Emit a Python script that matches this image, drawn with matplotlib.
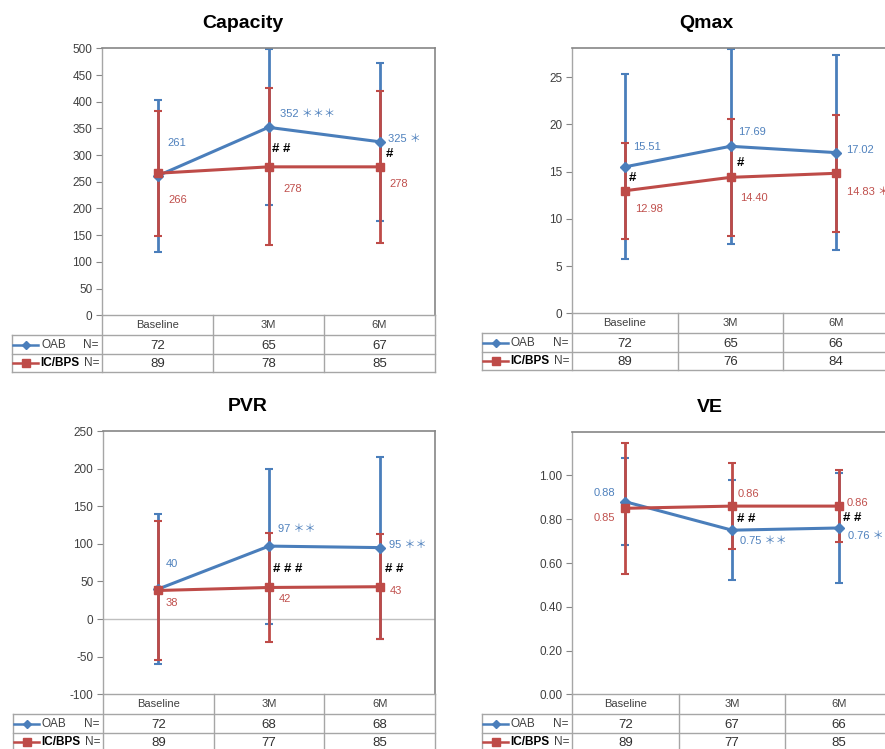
import matplotlib
matplotlib.use("Agg")
import matplotlib.pyplot as plt
from matplotlib.lines import Line2D
from matplotlib.ticker import FormatStrFormatter

plt.rcParams['font.family'] = ['Liberation Sans', 'Noto Sans CJK JP', 'DejaVu Sans']

W, H = 885, 749
fig = plt.figure(figsize=(W / 100, H / 100), dpi=100)

BLUE = '#4A7EBB'
RED = '#BE4B48'
BLUE_T = '#4F81BD'
RED_T = '#C0504D'
GRID = '#A6A6A6'
SPINE = '#868686'

categories = ['Baseline', '3M', '6M']

# ---- data ----
cap_oab = [261, 352, 325]
cap_oab_sd = [143, 146, 148]
cap_ic = [266, 278, 278]
cap_ic_sd = [117, 147, 142]
cap_n_oab = [72, 65, 67]
cap_n_ic = [89, 78, 85]
cap_oab_stars = [0, 3, 1]
cap_ic_stars = [0, 0, 0]
cap_hash = [0, 2, 1]

qmax_oab = [15.51, 17.69, 17.02]
qmax_oab_sd = [9.8, 10.3, 10.3]
qmax_ic = [12.98, 14.40, 14.83]
qmax_ic_sd = [5.1, 6.2, 6.2]
qmax_n_oab = [72, 65, 66]
qmax_n_ic = [89, 76, 84]
qmax_oab_stars = [0, 0, 0]
qmax_ic_stars = [0, 0, 1]
qmax_hash = [1, 1, 0]

pvr_oab = [40, 97, 95]
pvr_oab_sd = [100, 103, 121]
pvr_ic = [38, 42, 43]
pvr_ic_sd = [93, 72, 70]
pvr_n_oab = [72, 68, 68]
pvr_n_ic = [89, 77, 85]
pvr_oab_stars = [0, 2, 2]
pvr_ic_stars = [0, 0, 0]
pvr_hash = [0, 3, 2]

ve_oab = [0.88, 0.75, 0.76]
ve_oab_sd = [0.20, 0.227, 0.25]
ve_ic = [0.85, 0.86, 0.86]
ve_ic_sd = [0.30, 0.195, 0.165]
ve_n_oab = [72, 67, 66]
ve_n_ic = [89, 77, 85]
ve_oab_stars = [0, 2, 1]
ve_ic_stars = [0, 0, 0]
ve_hash = [0, 2, 2]


def fline(x0, y0, x1, y1, **kw):
    fig.add_artist(Line2D([x0 / W, x1 / W], [1 - y0 / H, 1 - y1 / H],
                          transform=fig.transFigure, **kw))


def ftext(x, y, s, **kw):
    fig.text(x / W, 1 - y / H, s, **kw)


def lab(v, fmt, stars):
    s = fmt.format(v)
    if stars:
        s += ' ' + '＊' * stars
    return s


def panel(rect, title, title_xy, ylim, yticks, yfmt, valfmt,
          oab, oab_sd, ic, ic_sd, n_oab, n_ic, oab_st, ic_st, hashes,
          oab_off, ic_off, hash_off, hash_anchor, zero_line=False):
    l, t, r, b = rect
    ax = fig.add_axes([l / W, 1 - b / H, (r - l) / W, (b - t) / H])
    x = list(range(len(categories)))
    ax.set_xlim(-0.5, 2.5)
    ax.set_ylim(*ylim)
    ax.set_yticks(yticks)
    ax.yaxis.set_major_formatter(FormatStrFormatter(yfmt))
    ax.set_xticks([])
    ax.tick_params(axis='y', length=4, color=SPINE, labelsize=8.5,
                   labelcolor='#404040', pad=3)
    for sp in ax.spines.values():
        sp.set_color(SPINE)
        sp.set_linewidth(1.2)
    ax.spines['bottom'].set_color(GRID)
    ax.spines['bottom'].set_linewidth(1)
    ax.spines['left'].set_color(GRID)
    ax.spines['left'].set_linewidth(1)
    if zero_line:
        ax.axhline(0, color='#BFBFBF', lw=1, zorder=1)

    ax.errorbar(x, oab, yerr=oab_sd, fmt='none', ecolor=BLUE, elinewidth=2,
                capsize=3, capthick=1.5, zorder=2)
    ax.errorbar(x, ic, yerr=ic_sd, fmt='none', ecolor=RED, elinewidth=2,
                capsize=3, capthick=1.5, zorder=3)
    ax.plot(x, oab, color=BLUE, lw=2.2, marker='D', ms=5, zorder=4)
    ax.plot(x, ic, color=RED, lw=2.2, marker='s', ms=6, zorder=5)

    for i in x:
        dx, dy, ha = oab_off[i]
        ax.annotate(lab(oab[i], valfmt, oab_st[i]), (i, oab[i]), xytext=(dx, dy),
                    textcoords='offset pixels', ha=ha, va='center',
                    fontsize=8, color=BLUE_T, zorder=6, annotation_clip=False)
        dx, dy, ha = ic_off[i]
        ax.annotate(lab(ic[i], valfmt, ic_st[i]), (i, ic[i]), xytext=(dx, dy),
                    textcoords='offset pixels', ha=ha, va='center',
                    fontsize=8, color=RED_T, zorder=6, annotation_clip=False)
        if hashes[i]:
            anc = oab if hash_anchor[i] == 'o' else ic
            dx, dy = hash_off[i]
            ax.annotate(' '.join(['#'] * hashes[i]), (i, anc[i]), xytext=(dx, dy),
                        textcoords='offset pixels', ha='left', va='center',
                        fontsize=9.5, fontweight='bold', color='black', zorder=6,
                        annotation_clip=False)

    # title
    ftext(title_xy[0], title_xy[1], title, ha='center', va='center',
          fontsize=14, fontweight='bold', color='black')

    # data table
    cols = [l + (r - l) * k / 3 for k in range(4)]
    rows = [b, b + 20, b + 38.5, b + 57]
    lc = l - 90
    for cx in cols:
        fline(cx, rows[0], cx, rows[3], color=GRID, lw=1)
    for ry in rows[1:]:
        fline(lc, ry, cols[-1], ry, color=GRID, lw=1)
    fline(lc, rows[1], lc, rows[3], color=GRID, lw=1)
    for k in range(3):
        cx = (cols[k] + cols[k + 1]) / 2
        ftext(cx, (rows[0] + rows[1]) / 2, categories[k], ha='center', va='center',
              fontsize=8, color='#404040')
        ftext(cx, (rows[1] + rows[2]) / 2 + 1, str(n_oab[k]), ha='center',
              va='center', fontsize=9.5, color='#303030')
        ftext(cx, (rows[2] + rows[3]) / 2 + 1, str(n_ic[k]), ha='center',
              va='center', fontsize=9.5, color='#303030')
    y1 = (rows[1] + rows[2]) / 2
    y2 = (rows[2] + rows[3]) / 2
    fig.add_artist(Line2D([(l - 89) / W, (l - 64) / W], [1 - y1 / H] * 2,
                          transform=fig.transFigure, color=BLUE, lw=1.8))
    fig.add_artist(Line2D([(l - 76) / W], [1 - y1 / H], transform=fig.transFigure,
                          color=BLUE, marker='D', ms=4.5))
    fig.add_artist(Line2D([(l - 89) / W, (l - 64) / W], [1 - y2 / H] * 2,
                          transform=fig.transFigure, color=RED, lw=1.8))
    fig.add_artist(Line2D([(l - 76) / W], [1 - y2 / H], transform=fig.transFigure,
                          color=RED, marker='s', ms=6))
    ftext(l - 61, y1, 'OAB', ha='left', va='center', fontsize=8.5, color='#404040')
    ftext(l - 19, y1, 'N=', ha='left', va='center', fontsize=8.5, color='#404040')
    ftext(l - 62, y2, 'IC/BPS', ha='left', va='center', fontsize=8.5,
          fontweight='bold', color='black')
    ftext(l - 18, y2, 'N=', ha='left', va='center', fontsize=8.5, color='#404040')
    return ax


panel((102, 48.3, 435, 315.3), 'Capacity', (243, 23), (0, 500),
      list(range(0, 501, 50)), '%d', '{:.0f}',
      cap_oab, cap_oab_sd, cap_ic, cap_ic_sd, cap_n_oab, cap_n_ic,
      cap_oab_stars, cap_ic_stars, cap_hash,
      [(10, 33, 'left'), (12, 13, 'left'), (9, 3, 'left')],
      [(11, -27, 'left'), (15, -22, 'left'), (10, -17, 'left')],
      [(0, 0), (4, -22), (6, -12)], ['o', 'o', 'o'])

panel((572, 48.3, 889, 313.3), 'Qmax', (706.7, 24), (0, 28.07),
      list(range(0, 26, 5)), '%d', '{:.2f}',
      qmax_oab, qmax_oab_sd, qmax_ic, qmax_ic_sd, qmax_n_oab, qmax_n_ic,
      qmax_oab_stars, qmax_ic_stars, qmax_hash,
      [(8, 20, 'left'), (8, 14, 'left'), (10, 3, 'left')],
      [(10, -18, 'left'), (10, -21, 'left'), (11, -19, 'left')],
      [(4, -11), (6, -17), (0, 0)], ['o', 'o', 'o'])

panel((103, 431, 435, 694.3), 'PVR', (248, 406.7), (-100, 250),
      list(range(-100, 251, 50)), '%d', '{:.0f}',
      pvr_oab, pvr_oab_sd, pvr_ic, pvr_ic_sd, pvr_n_oab, pvr_n_ic,
      pvr_oab_stars, pvr_ic_stars, pvr_hash,
      [(7, 25, 'left'), (9, 17, 'left'), (9, 3, 'left')],
      [(7, -13, 'left'), (10, -12, 'left'), (10, -4, 'left')],
      [(0, 0), (4, -23), (5, -21)], ['o', 'o', 'o'], zero_line=True)

panel((572, 431.7, 892, 694.3), 'VE', (710, 408), (0, 1.2),
      [0, 0.2, 0.4, 0.6, 0.8, 1.0], '%.2f', '{:.2f}',
      ve_oab, ve_oab_sd, ve_ic, ve_ic_sd, ve_n_oab, ve_n_ic,
      ve_oab_stars, ve_ic_stars, ve_hash,
      [(-10, 9, 'right'), (8, -11, 'left'), (9, -8, 'left')],
      [(-10, -10, 'right'), (6, 12, 'left'), (8, 3.5, 'left')],
      [(0, 0), (5, -13), (4, -12)], ['i', 'i', 'i'])

fig.savefig('out.png', dpi=100, facecolor='white')
